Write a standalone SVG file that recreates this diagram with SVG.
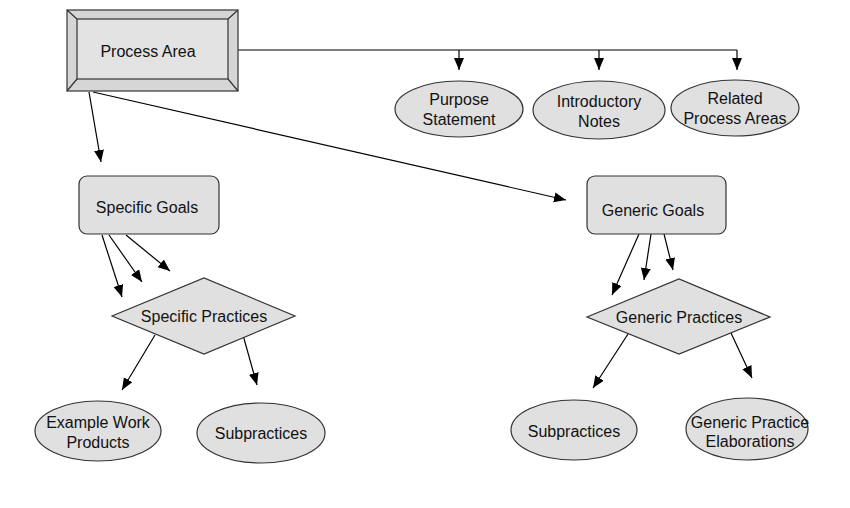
<svg xmlns="http://www.w3.org/2000/svg" width="850" height="508" viewBox="0 0 850 508">
<defs>
<marker id="ah" markerUnits="userSpaceOnUse" markerWidth="13" markerHeight="11" refX="12" refY="5" orient="auto">
<path d="M0,0 L12,5 L0,10 z" fill="#000"/>
</marker>
<style>
.n{fill:#e0e0e0;stroke:#333;stroke-width:1.2}
.t{font-family:"Liberation Sans",Arial,sans-serif;font-size:16px;fill:#111;text-anchor:middle}
.c{stroke:#000;stroke-width:1.2;fill:none;marker-end:url(#ah)}
.l{stroke:#000;stroke-width:1.2;fill:none}
</style>
</defs>
<rect width="850" height="508" fill="#fff"/>
<g id="connectors">
<path class="l" d="M238,50 H737"/>
<path class="c" d="M459,50 V70"/>
<path class="c" d="M599,50 V70"/>
<path class="c" d="M737,50 V70"/>
<path class="c" d="M89,92 L101,162"/>
<path class="c" d="M93,92 L566,200"/>
<path class="c" d="M102,235 L122,297"/>
<path class="c" d="M109,235 L142,282"/>
<path class="c" d="M126,235 L170,271"/>
<path class="c" d="M639,234 L612,295"/>
<path class="c" d="M651,234 L644,280"/>
<path class="c" d="M664,234 L673,270"/>
<path class="c" d="M155,335 L122,390"/>
<path class="c" d="M243,335 L257,385"/>
<path class="c" d="M628,334 L593,388"/>
<path class="c" d="M731,333 L752,378"/>
</g>
<g id="process-area">
<rect x="67" y="10" width="171" height="81" fill="#d6d6d6" stroke="#333" stroke-width="1.2"/>
<path d="M67,10 L77,19 M238,10 L228,19 M67,91 L77,79 M238,91 L228,79" stroke="#333" stroke-width="1.2"/>
<rect x="77" y="19" width="151" height="60" fill="#e3e3e3" stroke="#333" stroke-width="1.2"/>
<text class="t" x="148" y="57">Process Area</text>
</g>
<g id="purpose-statement">
<ellipse class="n" cx="459" cy="109" rx="64" ry="28"/>
<text class="t" x="459" y="105">Purpose</text>
<text class="t" x="459" y="125">Statement</text>
</g>
<g id="introductory-notes">
<ellipse class="n" cx="599" cy="110" rx="66" ry="29"/>
<text class="t" x="599" y="107">Introductory</text>
<text class="t" x="599" y="127">Notes</text>
</g>
<g id="related-process-areas">
<ellipse class="n" cx="735" cy="108" rx="64" ry="28"/>
<text class="t" x="735" y="104">Related</text>
<text class="t" x="735" y="124">Process Areas</text>
</g>
<g id="specific-goals">
<rect class="n" x="79" y="176" width="140" height="58" rx="8"/>
<text class="t" x="147" y="213">Specific Goals</text>
</g>
<g id="generic-goals">
<rect class="n" x="587" y="176" width="139" height="58" rx="8"/>
<text class="t" x="653" y="216">Generic Goals</text>
</g>
<g id="specific-practices">
<polygon class="n" points="112,316 204,278 295,316 204,354"/>
<text class="t" x="204" y="322">Specific Practices</text>
</g>
<g id="generic-practices">
<polygon class="n" points="587,317 679,279 770,317 679,354"/>
<text class="t" x="679" y="323">Generic Practices</text>
</g>
<g id="example-work-products">
<ellipse class="n" cx="98" cy="431" rx="63" ry="30"/>
<text class="t" x="98" y="428">Example Work</text>
<text class="t" x="98" y="448">Products</text>
</g>
<g id="subpractices-specific">
<ellipse class="n" cx="261" cy="433" rx="64" ry="30"/>
<text class="t" x="261" y="439">Subpractices</text>
</g>
<g id="subpractices-generic">
<ellipse class="n" cx="574" cy="430" rx="63" ry="30"/>
<text class="t" x="574" y="437">Subpractices</text>
</g>
<g id="generic-practice-elaborations">
<ellipse class="n" cx="747" cy="429" rx="61" ry="31"/>
<text class="t" x="750" y="428">Generic Practice</text>
<text class="t" x="750" y="447">Elaborations</text>
</g>
</svg>
